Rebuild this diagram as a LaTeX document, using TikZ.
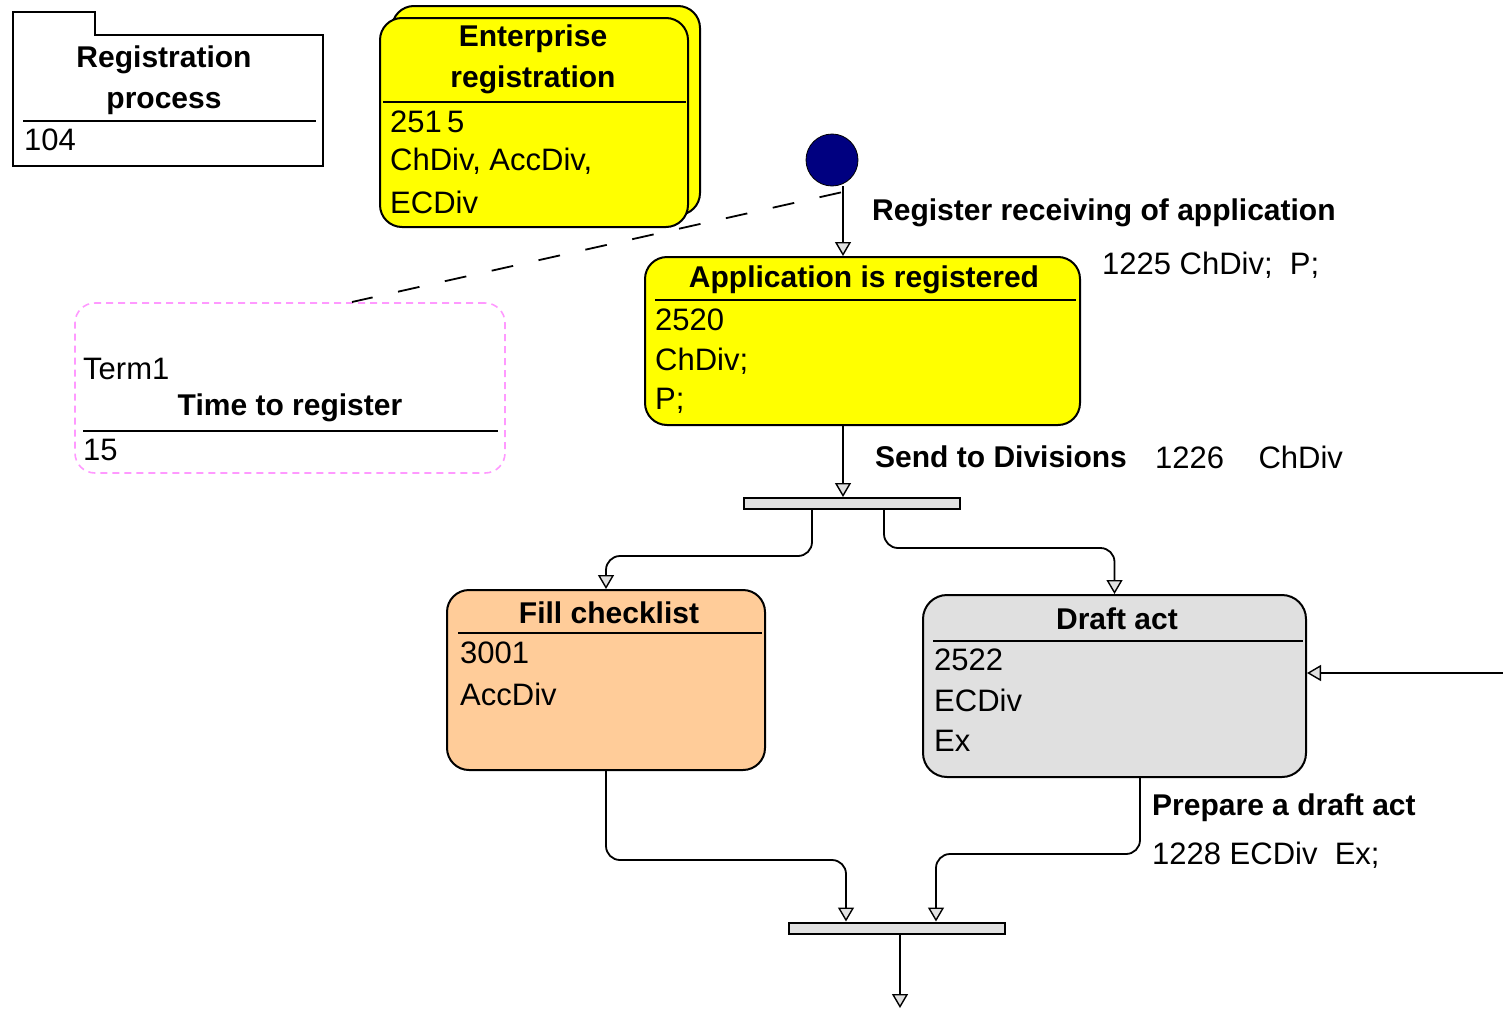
\documentclass[tikz,border=0pt]{standalone}
\usepackage{fontspec}
\setmainfont{Liberation Sans}
\usetikzlibrary{arrows.meta,calc}
\definecolor{stateyellow}{HTML}{FFFF00}
\definecolor{statepeach}{HTML}{FFCC99}
\definecolor{stategray}{HTML}{E0E0E0}
\definecolor{barfill}{HTML}{E0E0E0}
\definecolor{initblue}{HTML}{000080}
\definecolor{notepink}{HTML}{FF99FF}

\begin{document}
\begin{tikzpicture}[x=1pt,y=-1pt,
  statebox/.style={draw=black, line width=2pt, rounded corners=22pt, inner sep=0pt},
  divider/.style={line width=2.6pt},
  conn/.style={draw, line width=1.8pt, rounded corners=14pt,
    -{Triangle[length=14pt,width=16pt,fill=barfill,line width=1.4pt]}},
  ttl/.style={font=\fontsize{30}{41}\selectfont\bfseries, align=center, inner sep=0pt},
  body/.style={font=\fontsize{31}{40}\selectfont, anchor=west, inner sep=0pt},
  lab/.style={font=\fontsize{30}{40}\selectfont\bfseries, anchor=west, inner sep=0pt},
  forkbar/.style={draw, line width=2pt, fill=barfill, inner sep=0pt,
    minimum width=216pt, minimum height=11pt},
]
\useasboundingbox (0,0) rectangle (1503,1009);

% ---- package: Registration process ----
\node[inner sep=0pt, minimum width=310pt, minimum height=131pt] (pkg) at (168,100.5) {};
\draw[line width=1.8pt] (pkg.south west) -- ($(pkg.north west)+(0,-23)$) -- ++(82,0)
  -- ($(pkg.north west)+(82,0)$) -- (pkg.north east) -- (pkg.south east) -- cycle;
\node[ttl] (pkgname) at (164,80) {Registration\\process};
\draw[divider] (23,121) -- (316,121);
\node[body] (pkgid) at (24,140) {104};

% ---- Enterprise registration (stacked state) ----
\node[statebox, fill=stateyellow, minimum width=308pt, minimum height=209pt] (entback) at (546,110.5) {};
\node[statebox, fill=stateyellow, minimum width=308pt, minimum height=209pt] (ent) at (534,122.5) {};
\node[ttl] (entname) at (533,59) {Enterprise\\registration};
\draw[divider] (383,102) -- (686,102);
\node[body] (entid) at (390,122) {251\,5};
\node[body] (entdiv) at (390,161) {ChDiv, AccDiv,};
\node[body] (entec) at (390,202) {ECDiv};

% ---- initial state ----
\node[circle, fill=initblue, draw=black, line width=0.8pt, minimum size=52pt, inner sep=0pt] (init) at (832,160) {};
\coordinate (xinit) at (843,0);

% ---- Application is registered ----
\node[statebox, fill=stateyellow, minimum width=435pt, minimum height=168pt] (app) at (862.5,341) {};
\node[ttl] (appname) at (864,280) {Application is registered};
\draw[divider] (655,300) -- (1076,300);
\node[body] (appid) at (655,320) {2520};
\node[body] (appdiv) at (655,361) {ChDiv;};
\node[body] (appp) at (655,401) {P;};

% ---- time constraint note ----
\node[draw=notepink, dashed, dash pattern=on 7pt off 5pt, line width=1.6pt, rounded corners=20pt,
      minimum width=430pt, minimum height=170pt, inner sep=0pt] (term) at (290,388) {};
\node[body] (termid) at (83,369) {Term1};
\node[ttl] (termname) at (290,408) {Time to register};
\draw[divider] (83,431) -- (498,431);
\node[body] (termval) at (83,450) {15};
\coordinate (noteend) at (352,302);

% ---- fork bar ----
\node[forkbar] (fork) at (852,503.5) {};
\coordinate (xfl) at (812,0);
\coordinate (xfr) at (884,0);
\coordinate (yfl) at (0,556);
\coordinate (yfr) at (0,548);

% ---- Fill checklist ----
\node[statebox, fill=statepeach, minimum width=318pt, minimum height=180pt] (fill) at (606,680) {};
\node[ttl] (fillname) at (609,613) {Fill checklist};
\draw[divider] (458,633) -- (762,633);
\node[body] (fillid) at (460,653) {3001};
\node[body] (filldiv) at (460,694) {AccDiv};

% ---- Draft act ----
\node[statebox, fill=stategray, rounded corners=24pt, minimum width=383pt, minimum height=182pt] (draft) at (1114.5,686) {};
\node[ttl] (draftname) at (1117,619) {Draft act};
\draw[divider] (933,641) -- (1303,641);
\node[body] (draftid) at (934,660) {2522};
\node[body] (draftdiv) at (934,700) {ECDiv};
\node[body] (draftex) at (934,741) {Ex};
\coordinate (draftin) at (1503,673);

% ---- join bar ----
\node[forkbar] (join) at (896.5,928) {};
\coordinate (xjl) at (846,0);
\coordinate (xjr) at (936,0);
\coordinate (yjl) at (0,860);
\coordinate (yjr) at (0,854);
\coordinate (xdr) at (1140,0);
\coordinate (xout) at (900,0);
\coordinate (flowend) at (900,1008);

% ---- transitions ----
\draw[dashed, dash pattern=on 22pt off 26pt, line width=1.8pt] ($(init.south)+(9,6)$) -- (noteend);
\draw[conn] (init.south -| xinit) -- (app.north -| xinit);
\node[lab] (t1) at (872,213) {Register receiving of application};
\node[body] (t1d) at (1102,265) {1225 ChDiv;\ \ P;};

\draw[conn] (app.south -| xinit) -- (fork.north -| xinit);
\node[lab] (t2) at (875,457) {Send to Divisions};
\node[body] (t2d) at (1155,457) {1226\ \ \ \ ChDiv};

\draw[conn] (fork.south -| xfl) |- (fill.north |- yfl) -- (fill.north);
\draw[conn] (fork.south -| xfr) |- (draft.north |- yfr) -- (draft.north);

\draw[conn] (draftin) -- (draft.east |- draftin);

\draw[conn] (fill.south) |- (xjl |- yjl) -- (join.north -| xjl);
\draw[conn] (draft.south -| xdr) |- (xjr |- yjr) -- (join.north -| xjr);
\node[lab] (t3) at (1152,808) {Prepare a draft act};
\node[body] (t3d) at (1152,855) {1228 ECDiv\ \ Ex;};

\draw[conn] (join.south -| xout) -- (flowend);
\end{tikzpicture}
\end{document}
